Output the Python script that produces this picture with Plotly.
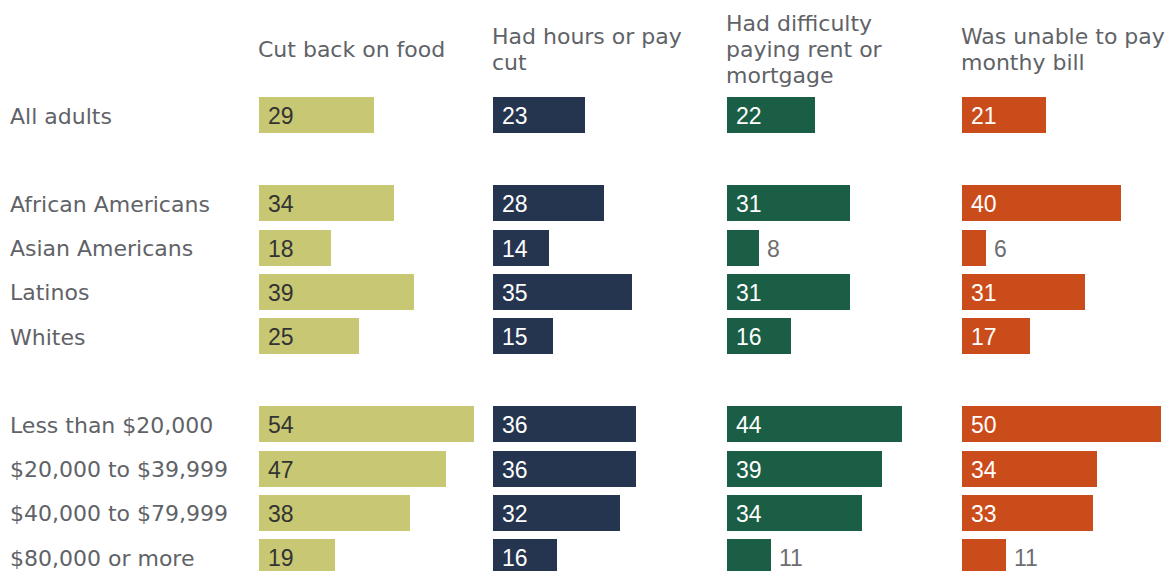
import plotly.graph_objects as go

# Survey results: share of adults (%) reporting each hardship
groups = ["All adults", "African Americans", "Asian Americans", "Latinos", "Whites",
          "Less than $20,000", "$20,000 to $39,999", "$40,000 to $79,999", "$80,000 or more"]
# row positions (gaps separate the three blocks)
row_pos = [0, 2, 3, 4, 5, 7, 8, 9, 10]

measures = [["Cut back on food"], ["Had hours or pay", "cut"],
            ["Had difficulty", "paying rent or", "mortgage"], ["Was unable to pay", "monthy bill"]]

cut_food = [29, 34, 18, 39, 25, 54, 47, 38, 19]
hours_cut = [23, 28, 14, 35, 15, 36, 36, 32, 16]
rent_trouble = [22, 31, 8, 31, 16, 44, 39, 34, 11]
unpaid_bill = [21, 40, 6, 31, 17, 50, 34, 33, 11]

series = [cut_food, hours_cut, rent_trouble, unpaid_bill]
colors = ["#C8C774", "#25354F", "#1B5E46", "#CB4C1B"]
inside_text = ["#333333", "#FFFFFF", "#FFFFFF", "#FFFFFF"]

W, H = 1170, 571
PX_PER_UNIT = 3.98
panel_left = [259, 493, 727, 962]
panel_width = [230, 230, 230, 206]

LABEL_FONT = "DejaVu Sans"
LABEL_SIZE = 22
NUM_FONT = "Liberation Sans"
GRAY = "#5F6368"
HEADER_MID = 49
# base size of header text sets the line pitch (1.3 em = 26 px)
HEADER_BASE = 20

fig = go.Figure()
annotations = []

for i, (vals, col) in enumerate(zip(series, colors)):
    ax = "x" if i == 0 else f"x{i+1}"
    fig.add_trace(go.Bar(
        x=vals, y=row_pos, orientation="h", xaxis=ax, yaxis="y",
        marker=dict(color=col, line=dict(width=0)), width=0.815,
        hoverinfo="x+y", showlegend=False,
    ))
    for v, p in zip(vals, row_pos):
        outside = v < 12
        annotations.append(dict(
            x=v if outside else 0, y=p, xref=ax, yref="y",
            text=str(v), showarrow=False, xanchor="left", yanchor="middle",
            xshift=8 if not outside else 7, yshift=-1, borderpad=0,
            font=dict(family=NUM_FONT, size=23,
                      color="#6D6E71" if outside else inside_text[i]),
        ))
    header = "<br>".join(
        f'<span style="font-size:{LABEL_SIZE}px">{line}</span>' for line in measures[i]
    )
    annotations.append(dict(
        x=panel_left[i] / W, y=1 - HEADER_MID / H, xref="paper", yref="paper",
        text=header, showarrow=False, xanchor="left", yanchor="middle",
        align="left", xshift=-2, yshift=-1, borderpad=0,
        font=dict(family=LABEL_FONT, size=HEADER_BASE, color=GRAY),
    ))
    fig.layout[f"xaxis{'' if i == 0 else i+1}"] = dict(
        domain=[panel_left[i] / W, (panel_left[i] + panel_width[i]) / W],
        range=[0, panel_width[i] / PX_PER_UNIT], visible=False, fixedrange=True,
    )

for g, p in zip(groups, row_pos):
    annotations.append(dict(
        x=11 / W, y=p, xref="paper", yref="y", text=g, showarrow=False,
        xanchor="left", yanchor="middle", xshift=-2, yshift=-1, borderpad=0,
        font=dict(family=LABEL_FONT, size=LABEL_SIZE, color=GRAY),
    ))

# reversed y axis: row 0 centred at 115px, 44.2px per row
top_pos = -115 / 44.2
bot_pos = (H - 115) / 44.2
fig.update_layout(
    width=W, height=H, margin=dict(l=0, r=0, t=0, b=0),
    paper_bgcolor="white", plot_bgcolor="white",
    yaxis=dict(range=[bot_pos, top_pos], visible=False, fixedrange=True),
    annotations=annotations, bargap=0,
)

fig.write_html("out.html")
